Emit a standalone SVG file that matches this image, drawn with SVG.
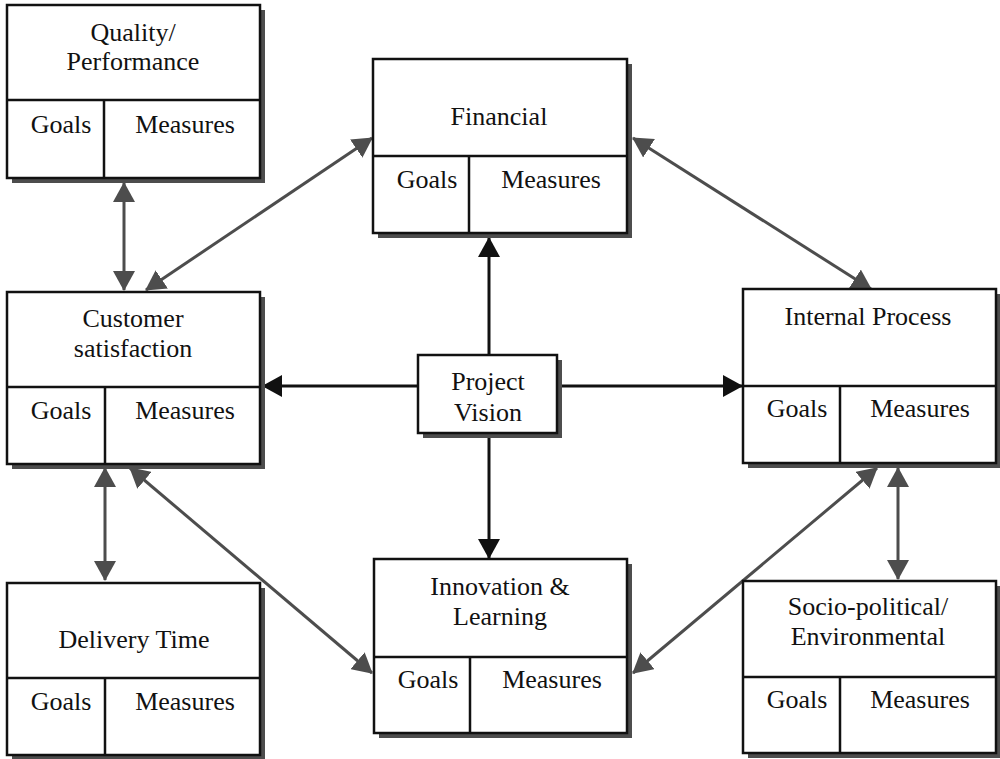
<svg xmlns="http://www.w3.org/2000/svg" width="1000" height="759" viewBox="0 0 1000 759">
  <style>
    .shadow { fill: #4d4d4d; }
    .box { fill: #ffffff; stroke: #111111; stroke-width: 2.5; }
    .div { stroke: #111111; stroke-width: 2.5; fill: none; }
    text { font-family: "Liberation Serif", "Times New Roman", serif; font-size: 26px; fill: #111111; text-anchor: middle; }
    .link { stroke: #4d4d4d; stroke-width: 3; fill: none; marker-start: url(#headGray); marker-end: url(#headGray); }
    .spoke { stroke: #111111; stroke-width: 3; fill: none; marker-end: url(#headBlack); }
  </style>
  <defs>
    <marker id="headGray" markerUnits="userSpaceOnUse" markerWidth="20" markerHeight="22" refX="19" refY="11" orient="auto-start-reverse" viewBox="0 0 20 22">
      <path d="M0,0 L20,11 L0,22 z" fill="#4d4d4d"/>
    </marker>
    <marker id="headBlack" markerUnits="userSpaceOnUse" markerWidth="20" markerHeight="22" refX="19" refY="11" orient="auto" viewBox="0 0 20 22">
      <path d="M0,0 L20,11 L0,22 z" fill="#111111"/>
    </marker>
  </defs>

  <!-- connectors -->
  <g id="connectors">
    <line class="link" x1="124" y1="183" x2="124" y2="290"/>
    <line class="link" x1="146" y1="290" x2="372" y2="138"/>
    <line class="link" x1="633" y1="138" x2="871" y2="289"/>
    <line class="link" x1="105" y1="468" x2="105" y2="580"/>
    <line class="link" x1="130" y1="468" x2="372" y2="673"/>
    <line class="link" x1="877" y1="468" x2="633" y2="673"/>
    <line class="link" x1="898" y1="468" x2="898" y2="579"/>
    <line class="spoke" x1="489" y1="355" x2="489" y2="238"/>
    <line class="spoke" x1="489" y1="433" x2="489" y2="558"/>
    <line class="spoke" x1="418" y1="386" x2="263" y2="386"/>
    <line class="spoke" x1="557" y1="386" x2="742" y2="386"/>
  </g>

  <!-- Quality / Performance -->
  <g id="quality">
    <rect class="shadow" x="12" y="10" width="253" height="173"/>
    <rect class="box" x="7" y="5" width="253" height="173"/>
    <path class="div" d="M7,100 H260 M104,100 V178"/>
    <text x="133" y="41">Quality/</text>
    <text x="133" y="70">Performance</text>
    <text x="61" y="133">Goals</text>
    <text x="185" y="133">Measures</text>
  </g>

  <!-- Financial -->
  <g id="financial">
    <rect class="shadow" x="378" y="64" width="254" height="174"/>
    <rect class="box" x="373" y="59" width="254" height="174"/>
    <path class="div" d="M373,156 H627 M469,156 V233"/>
    <text x="499" y="125">Financial</text>
    <text x="427" y="188">Goals</text>
    <text x="551" y="188">Measures</text>
  </g>

  <!-- Customer satisfaction -->
  <g id="customer">
    <rect class="shadow" x="12" y="297" width="253" height="172"/>
    <rect class="box" x="7" y="292" width="253" height="172"/>
    <path class="div" d="M7,387 H260 M105,387 V464"/>
    <text x="133" y="327">Customer</text>
    <text x="133" y="357">satisfaction</text>
    <text x="61" y="419">Goals</text>
    <text x="185" y="419">Measures</text>
  </g>

  <!-- Project Vision -->
  <g id="vision">
    <rect class="shadow" x="423" y="360" width="139" height="78"/>
    <rect class="box" x="418" y="355" width="139" height="78"/>
    <text x="488" y="390">Project</text>
    <text x="488" y="421">Vision</text>
  </g>

  <!-- Internal Process -->
  <g id="internal">
    <rect class="shadow" x="748" y="294" width="253" height="174"/>
    <rect class="box" x="743" y="289" width="253" height="174"/>
    <path class="div" d="M743,386 H996 M840,386 V463"/>
    <text x="868" y="325">Internal Process</text>
    <text x="797" y="417">Goals</text>
    <text x="920" y="417">Measures</text>
  </g>

  <!-- Delivery Time -->
  <g id="delivery">
    <rect class="shadow" x="12" y="588" width="253" height="172"/>
    <rect class="box" x="7" y="583" width="253" height="172"/>
    <path class="div" d="M7,678 H260 M105,678 V755"/>
    <text x="134" y="648">Delivery Time</text>
    <text x="61" y="710">Goals</text>
    <text x="185" y="710">Measures</text>
  </g>

  <!-- Innovation & Learning -->
  <g id="innovation">
    <rect class="shadow" x="379" y="564" width="253" height="174"/>
    <rect class="box" x="374" y="559" width="253" height="174"/>
    <path class="div" d="M374,657 H627 M470,657 V733"/>
    <text x="500" y="595">Innovation &amp;</text>
    <text x="500" y="625">Learning</text>
    <text x="428" y="688">Goals</text>
    <text x="552" y="688">Measures</text>
  </g>

  <!-- Socio-political / Environmental -->
  <g id="socio">
    <rect class="shadow" x="748" y="586" width="253" height="172"/>
    <rect class="box" x="743" y="581" width="253" height="172"/>
    <path class="div" d="M743,677 H996 M840,677 V753"/>
    <text x="868" y="615">Socio-political/</text>
    <text x="868" y="645">Environmental</text>
    <text x="797" y="708">Goals</text>
    <text x="920" y="708">Measures</text>
  </g>
</svg>
